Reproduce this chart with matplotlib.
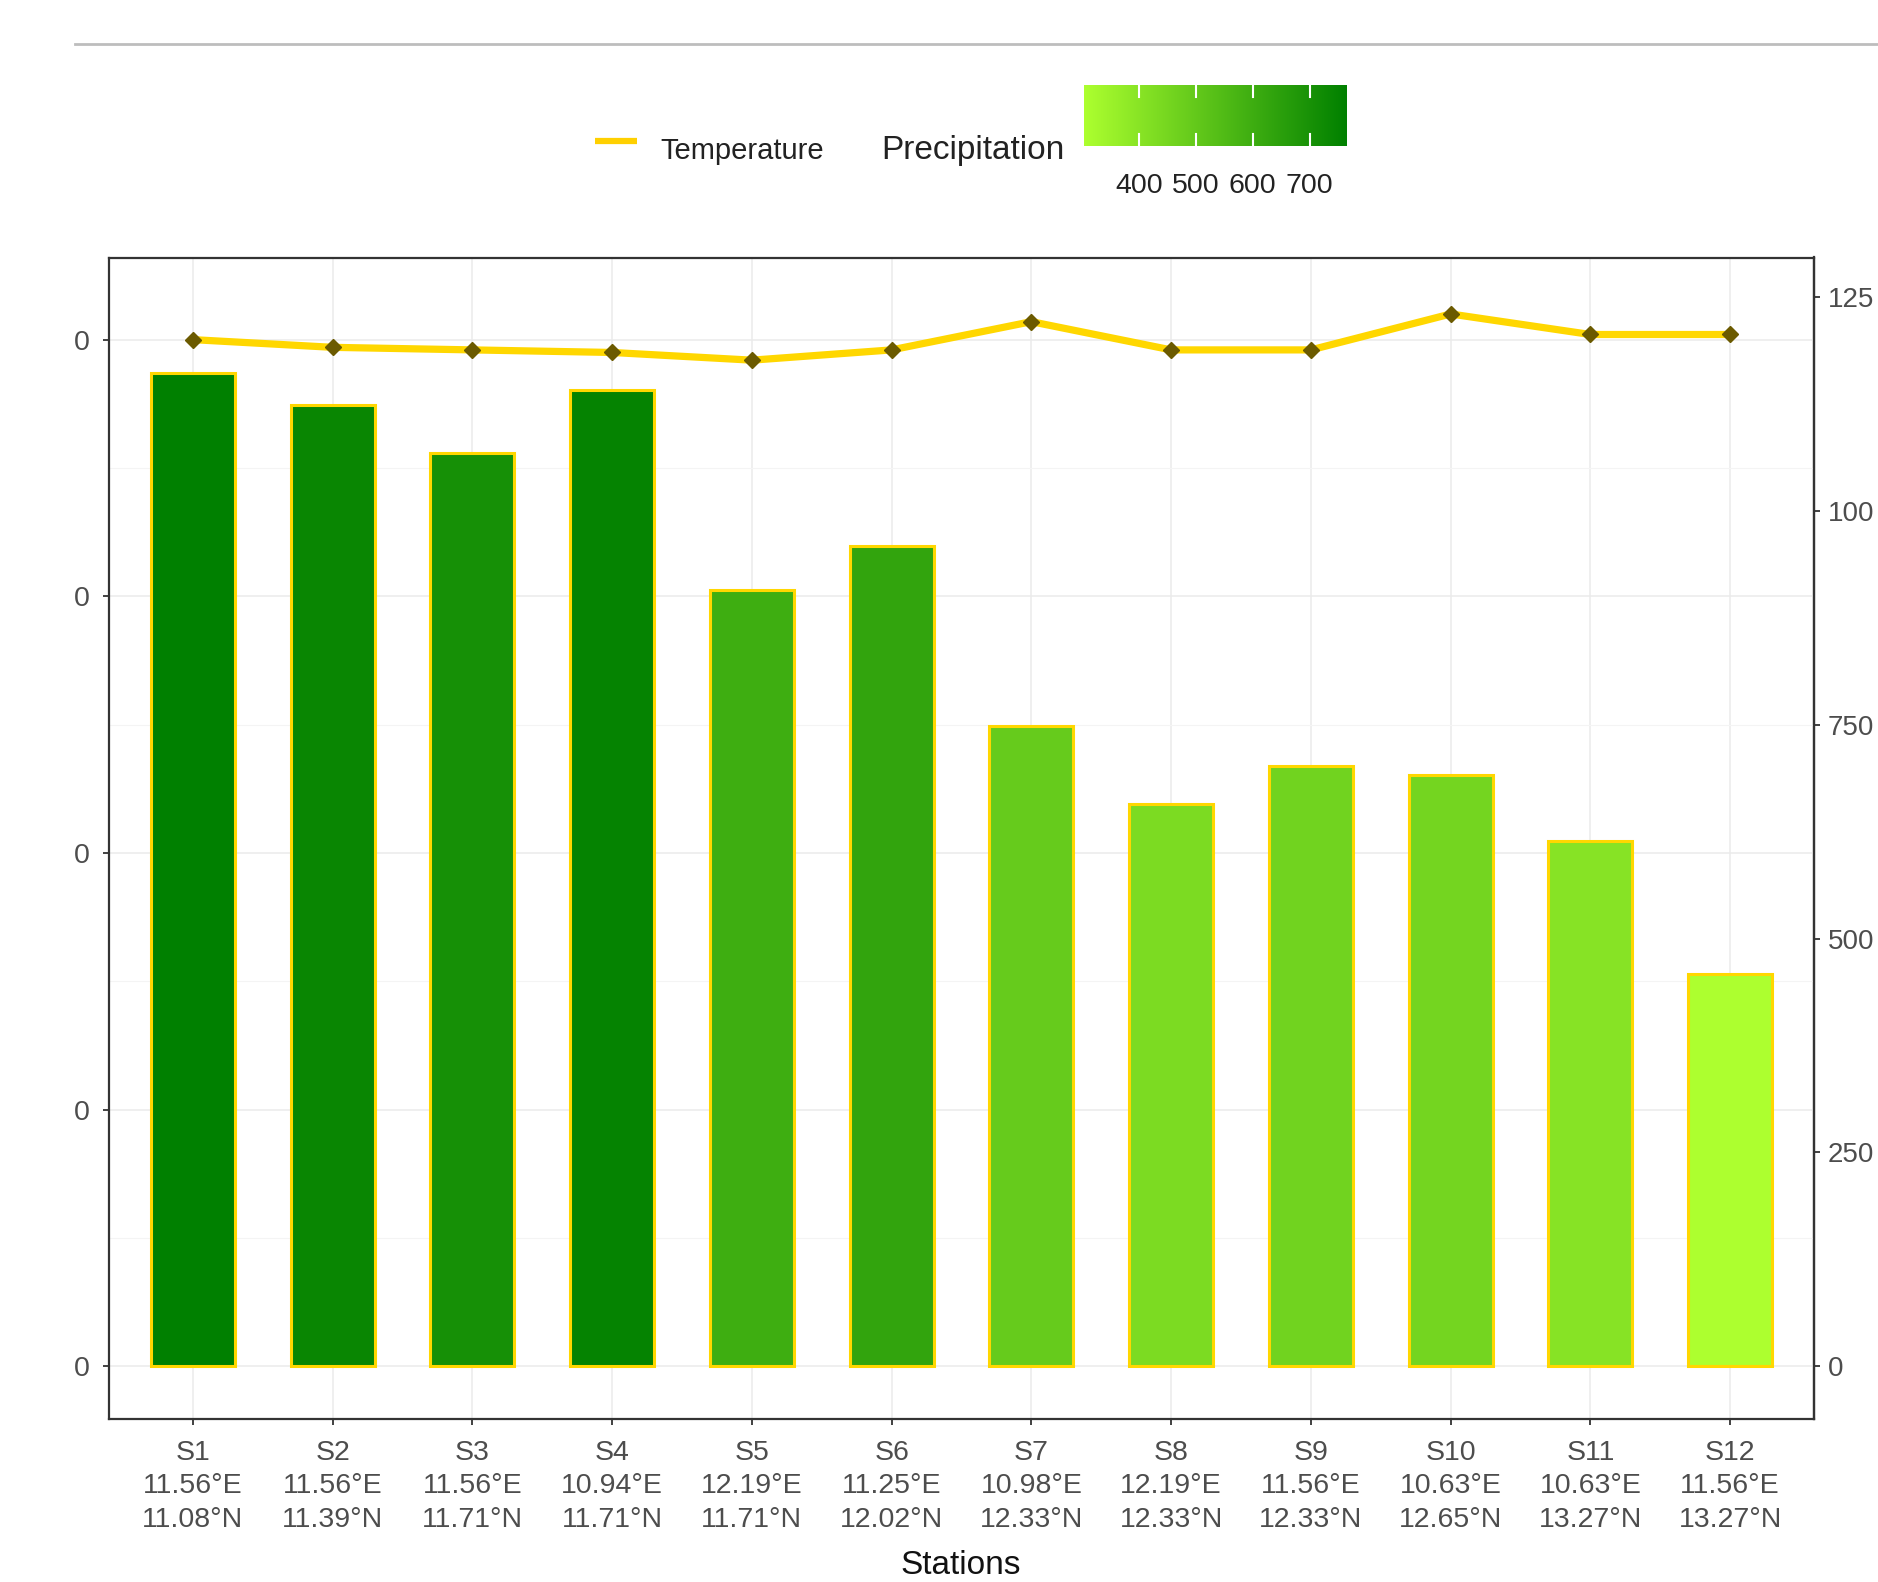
import matplotlib
matplotlib.use("Agg")
import matplotlib.pyplot as plt
from matplotlib.colors import LinearSegmentedColormap, Normalize
from matplotlib.lines import Line2D
import numpy as np

plt.rcParams['font.family'] = ['Liberation Sans', 'DejaVu Sans']

#%% Data
stations = ["S1", "S2", "S3", "S4", "S5", "S6", "S7", "S8", "S9", "S10", "S11", "S12"]
lon = ["11.56°E", "11.56°E", "11.56°E", "10.94°E", "12.19°E", "11.25°E",
       "10.98°E", "12.19°E", "11.56°E", "10.63°E", "10.63°E", "11.56°E"]
lat = ["11.08°N", "11.39°N", "11.71°N", "11.71°N", "11.71°N", "12.02°N",
       "12.33°N", "12.33°N", "12.33°N", "12.65°N", "13.27°N", "13.27°N"]
precip = [766, 742, 705, 753, 599, 633, 494, 434, 463, 456, 405, 303]   # mm
temp = [40.0, 39.7, 39.6, 39.5, 39.2, 39.6, 40.7, 39.6, 39.6, 41.0, 40.2, 40.2]  # degC
cbar_ticks = [400, 500, 600, 700]
right_ticks = [0, 250, 500, 750, 1000, 1250]
# the source picture is cropped: only these parts of the labels are visible
right_labels = ["0", "250", "500", "750", "100", "125"]
left_ticks = [0, 10, 20, 30, 40]
left_labels = ["0", "0", "0", "0", "0"]

# scale factors of the two y axes
PRECIP_SCALE = 1.515
TEMP_SCALE = 30

W, H = 1878, 1582
fig = plt.figure(figsize=(W / 100, H / 100), dpi=100)

def fx(px):
    return px / W

def fy(py):
    return 1 - py / H

ax = fig.add_axes([fx(109), fy(1419), fx(1814 - 109), (1419 - 257.5) / H])

cmap = LinearSegmentedColormap.from_list("prec", ["#ADFF2F", "#008000"])
norm = Normalize(vmin=min(precip), vmax=max(precip))

x = np.arange(1, len(stations) + 1)
heights = np.array(precip) * PRECIP_SCALE
ax.bar(x, heights, width=0.6, color=cmap(norm(np.array(precip))),
       edgecolor="#FFD700", linewidth=2.2, zorder=3)
ax.plot(x, np.array(temp) * TEMP_SCALE, color="#FFD700", lw=5.2, zorder=4,
        solid_capstyle="butt")
ax.plot(x, np.array(temp) * TEMP_SCALE, ls="none", marker="D", ms=8.5,
        color="#6B5A00", zorder=5)

ax.set_xlim(0.4, 12.6)
ax.set_ylim(-61.6, 1296)

# primary (left) axis: temperature
ax.set_yticks(np.array(left_ticks) * TEMP_SCALE)
ax.set_yticklabels(left_labels)
ax.set_yticks((np.array(left_ticks[:-1]) + 5) * TEMP_SCALE, minor=True)
ax.tick_params(axis="y", which="minor", length=0)
ax.set_xticks(x)
ax.set_xticklabels([f"{s}\n{a}\n{b}" for s, a, b in zip(stations, lon, lat)],
                   linespacing=1.38)

ax.grid(True, which="major", color="#EBEBEB", lw=1.1, zorder=0)
ax.grid(True, which="minor", axis="y", color="#F4F4F4", lw=0.8, zorder=0)
ax.set_axisbelow(True)

ax.tick_params(axis="both", which="major", length=4, width=1.3, color="#333333",
               labelcolor="#4D4D4D", labelsize=20.5)
ax.tick_params(axis="y", pad=10)
ax.tick_params(axis="x", pad=11)
for sp in ax.spines.values():
    sp.set_color("#333333")
    sp.set_linewidth(1.6)

# right axis: precipitation scale
sec = ax.secondary_yaxis("right")
sec.set_yticks(right_ticks)
sec.set_yticklabels(right_labels)
sec.tick_params(length=4, width=1.3, color="#333333", labelcolor="#4D4D4D",
                labelsize=20, pad=6)
sec.spines["right"].set_color("#333333")
sec.spines["right"].set_linewidth(1.6)

fig.text(fx(961), fy(1565), "Stations", ha="center", va="center",
         fontsize=24, color="#111111")

#%% legend
fig.add_artist(Line2D([fx(595), fx(637)], [fy(141), fy(141)], color="#FFD000",
                      lw=4.5, solid_capstyle="butt"))
fig.text(fx(660), fy(151), "Temperature", ha="left", va="center",
         fontsize=21, color="#222222")
fig.text(fx(881), fy(150), "Precipitation", ha="left", va="center",
         fontsize=24, color="#222222")

cax = fig.add_axes([fx(1084), fy(146), fx(263), 61 / H])
grad = np.linspace(min(precip), max(precip), 256)[None, :]
cax.imshow(grad, aspect="auto", cmap=cmap, norm=norm,
           extent=[min(precip), max(precip), 0, 1])
for t in cbar_ticks:
    cax.plot([t, t], [0, 0.2], color="white", lw=1.5)
    cax.plot([t, t], [0.8, 1], color="white", lw=1.5)
cax.set_xlim(min(precip), max(precip))
cax.set_ylim(0, 1)
cax.axis("off")
x0, x1 = 1084, 1347
for t in cbar_ticks:
    px = x0 + (t - min(precip)) / (max(precip) - min(precip)) * (x1 - x0)
    fig.text(fx(px), fy(186), str(t), ha="center", va="center",
             fontsize=20.5, color="#222222")

# gray rule at the top of the picture
fig.add_artist(Line2D([fx(75), 1.0], [fy(44), fy(44)], color="#BDBDBD", lw=2))

fig.savefig("out.png", dpi=100)
